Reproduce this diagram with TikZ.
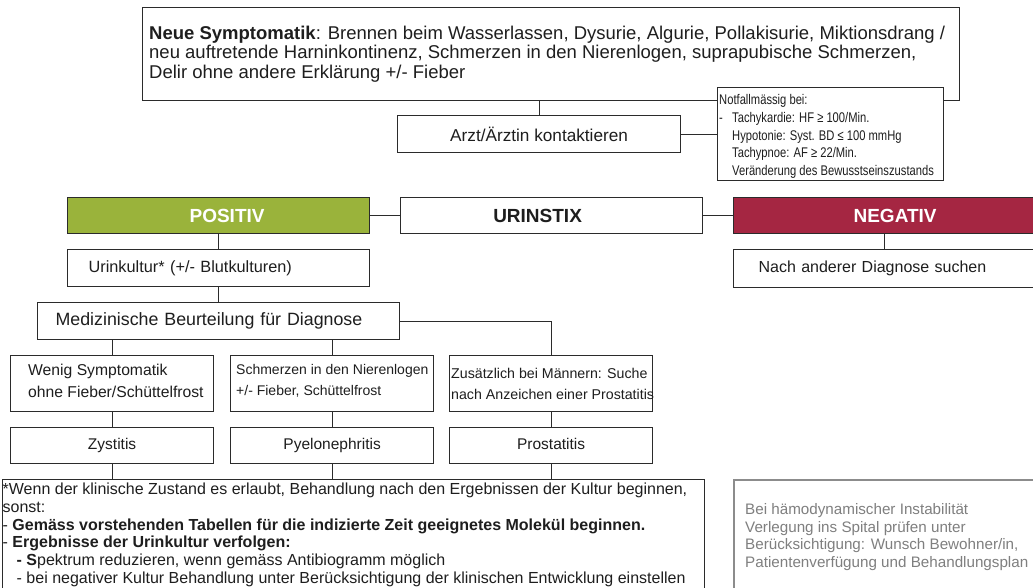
\documentclass[tikz,border=0pt]{standalone}
\usepackage{fontspec}
\setmainfont{Liberation Sans}
\newfontfamily\narrowfont[FakeStretch=0.8]{Liberation Sans}
\definecolor{posgreen}{HTML}{9AB33B}
\definecolor{negred}{HTML}{A52642}
\definecolor{ink}{HTML}{1E1E1E}
\definecolor{edge}{HTML}{2B2B2B}
\definecolor{soft}{HTML}{7F7F7F}
\newcommand\fsz[2]{\fontsize{#1pt}{#2pt}\selectfont}
\begin{document}
\begin{tikzpicture}[x=1pt,y=-1pt,
  box/.style={draw=edge, line width=1.2pt, fill=white, anchor=north west, inner sep=0pt, text=ink},
  diag/.style={box, minimum width=203pt, minimum height=36pt, font=\fsz{15.5}{18}, text height=11pt, text depth=3.5pt},
  lbl/.style={anchor=base west, inner sep=0pt, text=ink, align=left},
  link/.style={draw=edge, line width=1.2pt}]
\clip (0,0) rectangle (1033,587);
\fill[white] (0,0) rectangle (1033,587);

% top box and emergency box (label anchors = baseline of last line)
\node[box, minimum width=817pt, minimum height=93pt] (top) at (142,7) {};
\node[lbl, font=\fsz{18.5}{19.5}] (topT) at (149,78) {\textbf{Neue Symptomatik}: Brennen beim Wasserlassen, Dysurie, Algurie, Pollakisurie, Miktionsdrang /\\neu auftretende Harninkontinenz, Schmerzen in den Nierenlogen, suprapubische Schmerzen,\\Delir ohne andere Erklärung +/- Fieber};

\node[box, minimum width=226pt, minimum height=93pt] (notf) at (717,87) {};
\node[lbl, font=\narrowfont\fsz{14}{17.75}] (notfT) at (719,175.5) {Notfallmässig bei:\\\makebox[13pt][l]{-}Tachykardie: HF ≥ 100/Min.\\\hspace*{13pt}Hypotonie: Syst. BD ≤ 100 mmHg\\\hspace*{13pt}Tachypnoe: AF ≥ 22/Min.\\\hspace*{13pt}Veränderung des Bewusstseinszustands};

\node[box, minimum width=283pt, minimum height=37pt, font=\fsz{17.2}{20}] (arzt) at (397,115) {Arzt/Ärztin kontaktieren};

% urinstix row
\node[box, fill=posgreen, minimum width=302pt, minimum height=36pt, font=\bfseries\fsz{19}{22}, text=white] (pos) at (67,197) {\hspace*{17pt}POSITIV};
\node[box, minimum width=302pt, minimum height=36pt, font=\bfseries\fsz{19}{22}] (urin) at (400,197) {URINSTIX\hspace*{28pt}};
\node[box, fill=negred, minimum width=302pt, minimum height=36pt, font=\bfseries\fsz{19}{22}, text=white] (neg) at (733,197) {\hspace*{21pt}NEGATIV};

\node[box, minimum width=302pt, minimum height=37pt, text width=302pt, align=left, font=\fsz{16.3}{19}] (uk) at (67,249) {\hspace*{21pt}Urinkultur* (+/- Blutkulturen)};
\node[box, minimum width=302pt, minimum height=38pt, text width=302pt, align=left, font=\fsz{16}{19}] (nach) at (733,249) {\hspace*{25pt}Nach anderer Diagnose suchen};
\node[box, minimum width=362pt, minimum height=37pt, text width=362pt, align=left, font=\fsz{17.8}{20}] (med) at (37,302) {\hspace*{18pt}Medizinische Beurteilung für Diagnose};

% symptom boxes
\node[box, minimum width=203pt, minimum height=56pt] (wenig) at (10,355) {};
\node[lbl, font=\fsz{15.7}{21.5}] (wenigT) at (28,397) {Wenig Symptomatik\\ohne Fieber/Schüttelfrost};
\node[box, minimum width=203pt, minimum height=56pt] (schm) at (230,355) {};
\node[lbl, font=\fsz{14}{21}] (schmT) at (236,395) {Schmerzen in den Nierenlogen\\+/- Fieber, Schüttelfrost};
\node[box, minimum width=203pt, minimum height=56pt] (zus) at (449,355) {};
\node[lbl, font=\fsz{14.2}{21}] (zusT) at (451,399) {Zusätzlich bei Männern: Suche\\nach Anzeichen einer Prostatitis};

% diagnoses
\node[diag] (zys) at (10,427) {Zystitis};
\node[diag] (pye) at (230,427) {Pyelonephritis};
\node[diag] (pro) at (449,427) {Prostatitis};

% bottom note
\node[box, minimum width=702pt, minimum height=130pt] (bot) at (1.5,479) {};
\node[lbl, font=\fsz{16}{17.8}] (botT) at (2.5,583.5) {*Wenn der klinische Zustand es erlaubt, Behandlung nach den Ergebnissen der Kultur beginnen,\\sonst:\\- \textbf{Gemäss vorstehenden Tabellen für die indizierte Zeit geeignetes Molekül beginnen.}\\- \textbf{Ergebnisse der Urinkultur verfolgen:}\\\hspace*{14pt}\textbf{- S}pektrum reduzieren, wenn gemäss Antibiogramm möglich\\\hspace*{14pt}- bei negativer Kultur Behandlung unter Berücksichtigung der klinischen Entwicklung einstellen};

% hospital note
\node[box, draw=soft!90, line width=1.5pt, minimum width=310pt, minimum height=120pt] (gray) at (733,479) {};
\node[lbl, text=soft, font=\fsz{15.2}{17.5}] (grayT) at (745,567) {Bei hämodynamischer Instabilität\\Verlegung ins Spital prüfen unter\\Berücksichtigung: Wunsch Bewohner/in,\\Patientenverfügung und Behandlungsplan};

% connectors
\draw[link] (arzt.north) -- (arzt.north |- top.south);
\draw[link] (arzt.east) -- (arzt.east -| notf.west);
\draw[link] (pos.east) -- (urin.west);
\draw[link] (urin.east) -- (neg.west);
\draw[link] (pos.south) -- (uk.north);
\draw[link] (uk.south) -- (med.north);
\draw[link] (neg.south) -- (nach.north);
\draw[link] (wenig.north) -- (wenig.north |- med.south);
\draw[link] (schm.north) -- (schm.north |- med.south);
\draw[link] (med.east) -| (zus.north);
\draw[link] (wenig.south) -- (zys.north);
\draw[link] (schm.south) -- (pye.north);
\draw[link] (zus.south) -- (pro.north);
\draw[link] (zys.south) -- (zys.south |- bot.north);
\draw[link] (pye.south) -- (pye.south |- bot.north);
\draw[link] (pro.south) -- (pro.south |- bot.north);
\end{tikzpicture}
\end{document}
